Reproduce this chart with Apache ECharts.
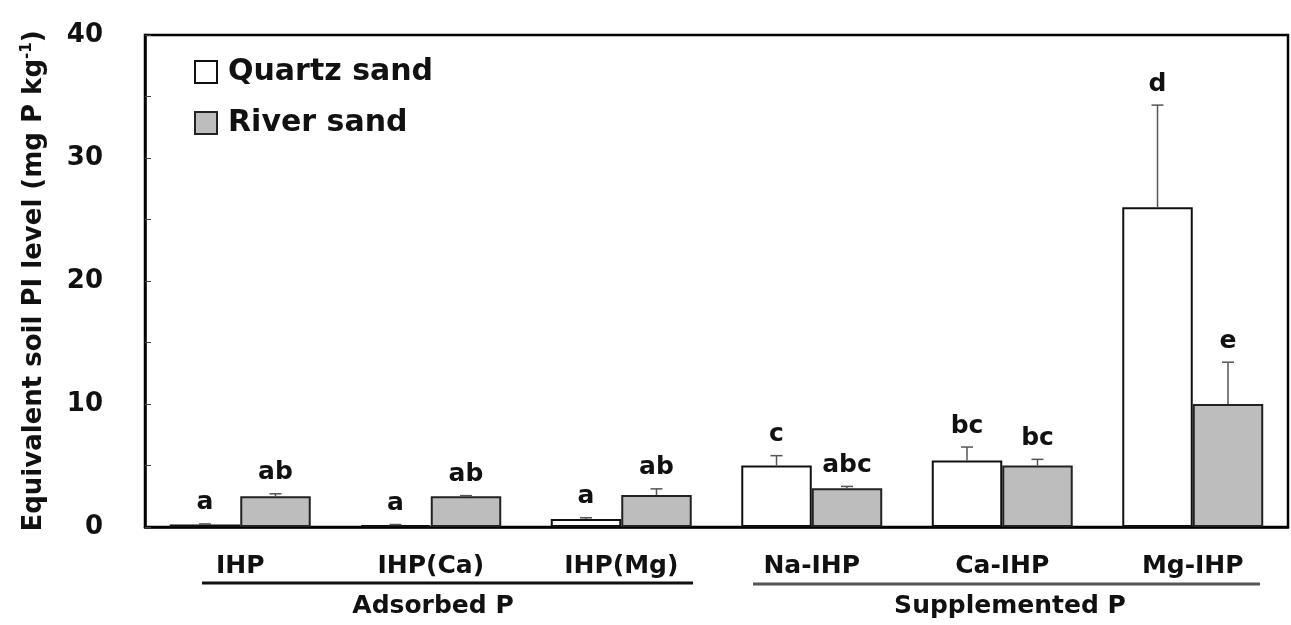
<!DOCTYPE html>
<html>
<head>
<meta charset="utf-8">
<script src="https://cdn.jsdelivr.net/npm/echarts@6/dist/echarts.min.js"></script>
<style>
html,body{margin:0;padding:0;background:#fff;}
#main{width:1291px;height:625px;}
</style>
</head>
<body>
<div id="main"></div>
<script>
// data
var categories = ['IHP', 'IHP(Ca)', 'IHP(Mg)', 'Na-IHP', 'Ca-IHP', 'Mg-IHP'];
var quartz = [0.2, 0.15, 0.65, 5.0, 5.4, 26.0];
var quartzErr = [0.05, 0.05, 0.1, 0.8, 1.1, 8.3];
var quartzLetters = ['a', 'a', 'a', 'c', 'bc', 'd'];
var river = [2.5, 2.5, 2.6, 3.15, 5.0, 10.0];
var riverErr = [0.2, 0.05, 0.5, 0.15, 0.5, 3.4];
var riverLetters = ['ab', 'ab', 'ab', 'abc', 'bc', 'e'];
var yTicks = [0, 10, 20, 30, 40];

var FONT = 'DejaVu Sans';
var GAP = 0.26;

function errSeries(vals, errs, letters, side){
  var data = [];
  for(var i = 0; i < vals.length; i++){
    data.push([i, vals[i], vals[i] + errs[i], letters[i]]);
  }
  return {
    type: 'custom',
    z: 5,
    data: data,
    renderItem: function(params, api){
      var band = api.size([1, 0])[0];
      var off = side * band * (1 - GAP) / 4;
      var base = api.coord([api.value(0), api.value(1)]);
      var top = api.coord([api.value(0), api.value(2)]);
      var x = base[0] + off;
      return {
        type: 'group',
        children: [
          {type: 'line', shape: {x1: x, y1: base[1], x2: x, y2: top[1]},
            style: {stroke: '#555', lineWidth: 1.5}},
          {type: 'line', shape: {x1: x - 6, y1: top[1], x2: x + 6, y2: top[1]},
            style: {stroke: '#555', lineWidth: 1.5}},
          {type: 'text', x: x, y: top[1] - 21,
            style: {text: api.value(3), font: 'bold 25px ' + FONT, fill: '#111',
              align: 'center', verticalAlign: 'middle'}}
        ]
      };
    }
  };
}

var myChart = echarts.init(document.getElementById('main'));

var option = {
  backgroundColor: '#fff',
  animation: false,
  grid: {left: 145, right: 3, top: 35, bottom: 98, show: true,
    borderColor: '#000', borderWidth: 2.5, backgroundColor: 'transparent'},
  legend: {
    orient: 'vertical', left: 189, top: 52, itemGap: 21,
    itemWidth: 22, itemHeight: 22, icon: 'rect',
    textStyle: {fontFamily: FONT, fontWeight: 'bold', fontSize: 30, color: '#111', padding: [0, 0, 0, 6]},
    data: ['Quartz sand', 'River sand']
  },
  xAxis: {
    type: 'category', data: categories,
    axisLine: {lineStyle: {color: '#000', width: 2.5}},
    axisTick: {show: false},
    axisLabel: {fontFamily: FONT, fontWeight: 'bold', fontSize: 25, color: '#111', margin: 27}
  },
  yAxis: {
    type: 'value', min: 0, max: 40, interval: 5,
    name: '{n|Equivalent soil PI level (mg P kg}{s|-1}{n|)}',
    nameLocation: 'middle', nameRotate: 90, nameGap: 96,
    nameTextStyle: {
      rich: {
        n: {fontFamily: FONT, fontWeight: 'bold', fontSize: 26, color: '#111'},
        s: {fontFamily: FONT, fontWeight: 'bold', fontSize: 15, color: '#111', verticalAlign: 'top', padding: [0, 0, 14, 0]}
      }
    },
    axisLine: {show: true, lineStyle: {color: '#000', width: 2.5}},
    axisTick: {show: true, inside: true, length: 6, lineStyle: {color: '#444'}},
    splitLine: {show: false},
    axisLabel: {
      fontFamily: FONT, fontWeight: 'bold', fontSize: 26, color: '#111', margin: 42,
      formatter: function(v){ return yTicks.indexOf(v) >= 0 ? String(v) : ''; }
    }
  },
  series: [
    {name: 'Quartz sand', type: 'bar', data: quartz, barGap: '0%', barCategoryGap: (GAP * 100) + '%',
      itemStyle: {color: '#fff', borderColor: '#111', borderWidth: 2}},
    {name: 'River sand', type: 'bar', data: river, barGap: '0%', barCategoryGap: (GAP * 100) + '%',
      itemStyle: {color: '#bdbdbd', borderColor: '#222', borderWidth: 2}},
    errSeries(quartz, quartzErr, quartzLetters, -1),
    errSeries(river, riverErr, riverLetters, 1)
  ],
  graphic: [
    {type: 'line', shape: {x1: 202, y1: 583, x2: 693, y2: 583}, style: {stroke: '#111', lineWidth: 3}},
    {type: 'text', x: 433, y: 606, style: {text: 'Adsorbed P', font: 'bold 25px ' + FONT, fill: '#111', align: 'center', verticalAlign: 'middle'}},
    {type: 'line', shape: {x1: 753, y1: 584, x2: 1260, y2: 584}, style: {stroke: '#555', lineWidth: 3}},
    {type: 'text', x: 1010, y: 606, style: {text: 'Supplemented P', font: 'bold 25px ' + FONT, fill: '#111', align: 'center', verticalAlign: 'middle'}}
  ]
};

myChart.setOption(option);
</script>
</body>
</html>
